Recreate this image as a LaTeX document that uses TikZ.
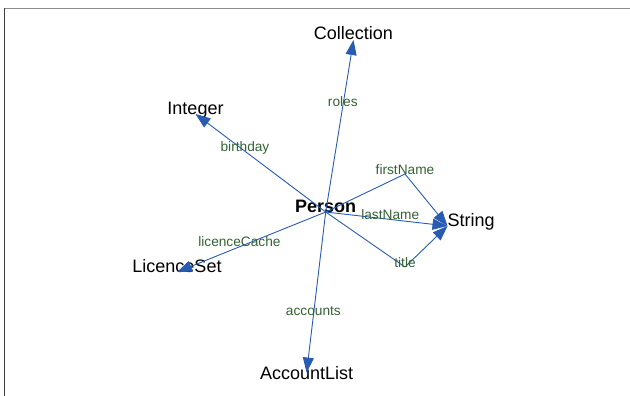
\documentclass[tikz,border=0pt]{standalone}
\usepackage{fontspec}
\setmainfont{Liberation Sans}
\usetikzlibrary{arrows.meta}
\definecolor{edgeblue}{RGB}{40,92,178}
\definecolor{labelgreen}{RGB}{52,98,52}
\begin{document}
\begin{tikzpicture}[x=1pt,y=-1pt,line join=round,
		class/.style={inner sep=0pt,outer sep=0pt,font=\fontsize{18}{20}\selectfont},
		role/.style={inner sep=0pt,text=labelgreen,font=\fontsize{13.7}{15}\selectfont},
		assoc/.style={draw=edgeblue,line width=0.9pt,-{Triangle[length=15pt,width=11pt,fill=edgeblue]}}]
	\useasboundingbox (0,0) rectangle (630,396);
	% frame of the panel
	\draw[line width=1.2pt,black!45] (4,8.6) -- (630,8.6);
	\draw[line width=1.2pt,black!75] (4.5,8) -- (4.5,396);
	% classes
	\node[class,font=\fontsize{18}{20}\selectfont\bfseries,anchor=base] (person) at (325.7,212) {Person};
	\node[class,anchor=base] (collection) at (353.5,40) {Collection};
	\node[class,anchor=base] (integer) at (195.5,114) {Integer};
	\node[class,anchor=base west] (string) at (447.5,226) {String};
	\node[class,anchor=base] (licenceset) at (177,272) {LicenceSet};
	\node[class,anchor=base] (accountlist) at (306.6,379) {AccountList};
	\coordinate (firstbend) at (405,174);
	\coordinate (titlebend) at (405,267);
	% straight associations
	\foreach \target/\name/\where in {collection.base/roles/0.615,integer.base/birthday/0.62,string.base west/lastName/0.53,licenceset.base/licenceCache/0.58,accountlist.center/accounts/0.645}
	{
		\draw[assoc] (person.base) -- node[role,anchor=base,pos=\where] {\name} (\target);
	}
	% bent associations to String
	\draw[assoc] (person.base) -- (firstbend) node[role,anchor=base] {firstName} -- (string.base west);
	\draw[assoc] (person.base) -- (titlebend) node[role,anchor=base] {title} -- (string.base west);
\end{tikzpicture}
\end{document}
